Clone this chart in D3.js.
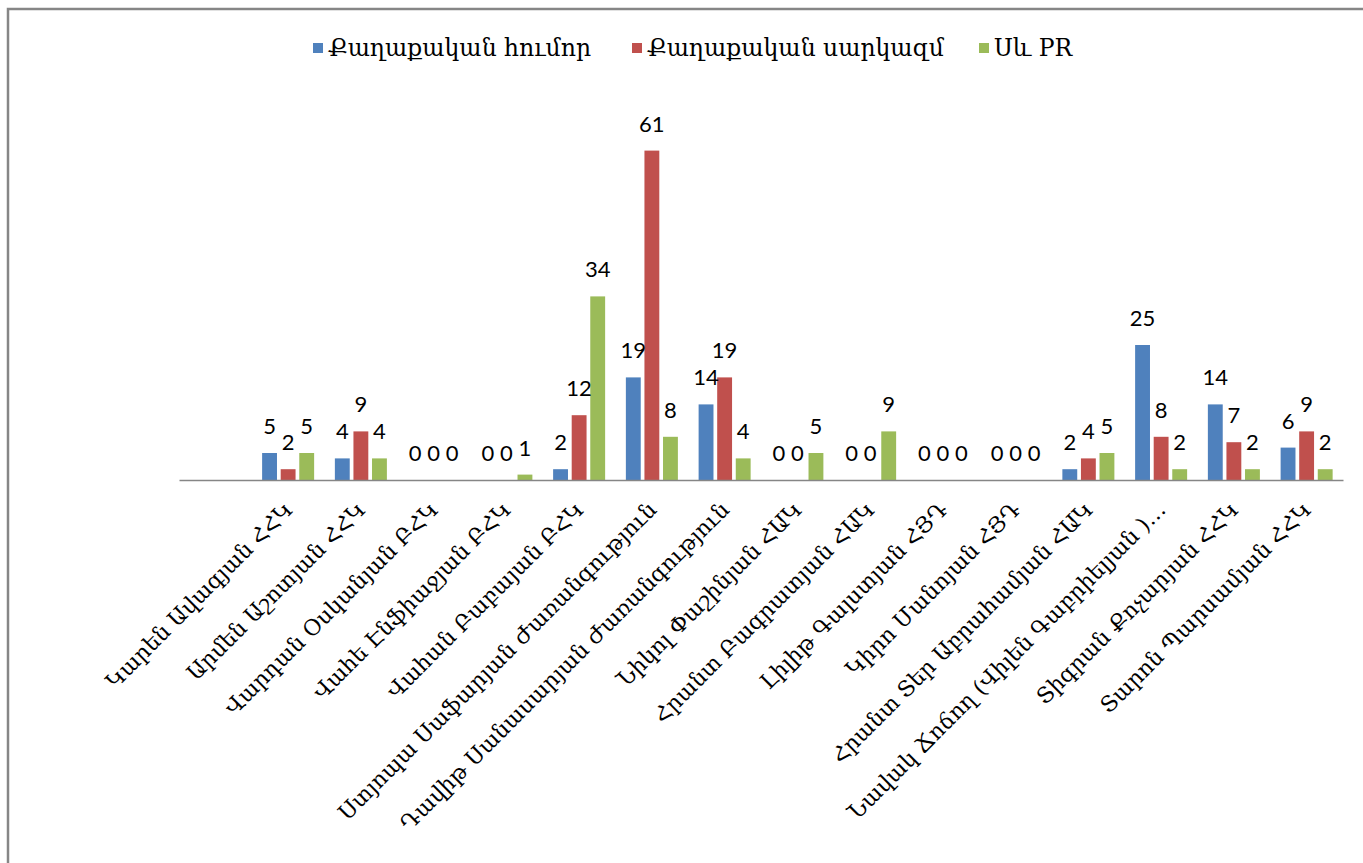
<!DOCTYPE html>
<html><head><meta charset="utf-8">
<script src="https://cdn.jsdelivr.net/npm/d3@7/dist/d3.min.js"></script>
<style>
html,body{margin:0;padding:0;background:#fff;}
svg{display:block;}
</style></head>
<body>
<svg id="chart" width="1363" height="863"></svg>
<script>
// ---- data ----
const categories = [
  "",
  "Կարեն Ավագյան ՀՀԿ",
  "Արմեն Աշոտյան ՀՀԿ",
  "Վարդան Օսկանյան ԲՀԿ",
  "Վահե Էնֆիաջյան ԲՀԿ",
  "Վահան Բաբայան ԲՀԿ",
  "Ստյոպա Սաֆարյան Ժառանգություն",
  "Դավիթ Սանասարյան Ժառանգություն",
  "Նիկոլ Փաշինյան ՀԱԿ",
  "Հրանտ Բագրատյան ՀԱԿ",
  "Լիլիթ Գալստյան ՀՅԴ",
  "Կիրո Մանոյան ՀՅԴ",
  "Հրանտ Տեր Աբրահամյան ՀԱԿ",
  "Նավակ Ճոճող (Վիլեն Գաբրիելյան )…",
  "Տիգրան Քոչարյան ՀՀԿ",
  "Տարոն Պարսամյան ՀՀԿ"
];
const seriesNames = ["Քաղաքական հումոր", "Քաղաքական սարկազմ", "Սև PR"];
const humor   = [null, 5, 4, 0, 0, 2, 19, 14, 0, 0, 0, 0, 2, 25, 14, 6];
const sarcasm = [null, 2, 9, 0, 0, 12, 61, 19, 0, 0, 0, 0, 4, 8, 7, 9];
const blackPR = [null, 5, 4, 0, 1, 34, 8, 4, 5, 9, 0, 0, 5, 2, 2, 2];
const seriesValues = [humor, sarcasm, blackPR];
const colors = ["#4F81BD", "#C0504D", "#9BBB59"];
const yMax = 70;

// ---- chart ----
const svg = d3.select("#chart");
svg.append("rect").attr("width",1363).attr("height",863).attr("fill","#fff");
// outer frame (left and top visible)
svg.append("path").attr("d","M8,863 L8,9 L1363,9")
  .attr("fill","none").attr("stroke","#868686").attr("stroke-width",2.5);

const plot = {left:179, right:1343, top:102, bottom:480};

const x0 = d3.scaleBand().domain(d3.range(categories.length))
  .range([plot.left, plot.right]).paddingInner(0.285).paddingOuter(0.1425);
const x1 = d3.scaleBand().domain(d3.range(seriesNames.length))
  .range([0, x0.bandwidth()]).paddingInner(0.2).paddingOuter(0);
const y = d3.scaleLinear().domain([0, yMax]).range([plot.bottom, plot.top]);

const rows = [];
categories.forEach((c,i)=>{
  seriesValues.forEach((s,j)=>{
    if (s[i] !== null) rows.push({i, j, v:s[i]});
  });
});

svg.append("g").selectAll("rect").data(rows).join("rect")
  .attr("x", d=>x0(d.i)+x1(d.j))
  .attr("y", d=>y(d.v))
  .attr("width", x1.bandwidth())
  .attr("height", d=>y(0)-y(d.v))
  .attr("fill", d=>colors[d.j]);

// axis
const xAxis = d3.axisBottom(x0).tickSize(0).tickFormat(i=>categories[i]);
const gx = svg.append("g").attr("transform",`translate(0,${plot.bottom})`).call(xAxis);
gx.select(".domain").attr("stroke","#868686").attr("stroke-width",1.5);
gx.selectAll(".tick text")
  .attr("font-family","'DejaVu Serif', serif")
  .attr("font-size",22)
  .attr("fill","#000")
  .attr("text-anchor","end")
  .attr("dy",null).attr("y",null)
  .attr("transform","translate(6,31) rotate(-45)");

// data labels
svg.append("g").selectAll("text").data(rows).join("text")
  .attr("x", d=>x0(d.i)+x1(d.j)+x1.bandwidth()/2)
  .attr("y", d=>y(d.v)-19)
  .attr("text-anchor","middle")
  .attr("font-family","Lato, 'Open Sans', sans-serif")
  .attr("font-size",22)
  .attr("fill","#000")
  .text(d=>d.v);

// legend
const legendX = [313, 632, 979];
const lg = svg.append("g").selectAll("g").data(seriesNames).join("g")
  .attr("transform",(d,j)=>`translate(${legendX[j]},43)`);
lg.append("rect").attr("width",10).attr("height",10).attr("fill",(d,j)=>colors[j]);
lg.append("text").attr("x",15).attr("y",13)
  .attr("font-family","'DejaVu Serif', serif").attr("font-size",23.5)
  .attr("fill","#000").text(d=>d);
</script>
</body></html>
